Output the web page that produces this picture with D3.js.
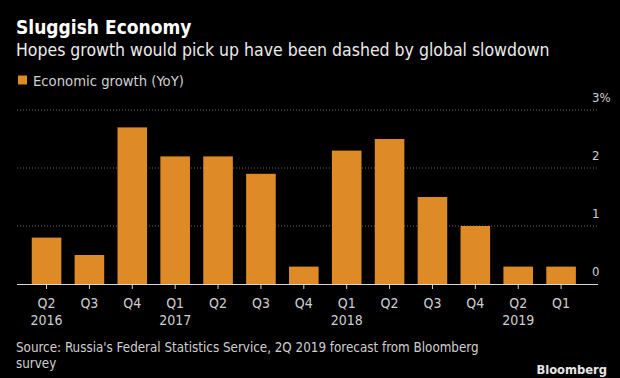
<!DOCTYPE html>
<html><head><meta charset="utf-8">
<script src="https://cdn.jsdelivr.net/npm/d3@7"></script>
<style>
html,body{margin:0;padding:0;background:#000;}
svg{display:block;}
text{font-family:"DejaVu Sans Condensed","DejaVu Sans",sans-serif;}
</style></head>
<body>
<script>
const quarters = ["Q2","Q3","Q4","Q1","Q2","Q3","Q4","Q1","Q2","Q3","Q4","Q2","Q1"];
const years = ["2016","","","2017","","","","2018","","","","2019",""];
const growth = [0.8,0.5,2.7,2.2,2.2,1.9,0.3,2.3,2.5,1.5,1.0,0.3,0.3];
const yTicks = [0,1,2,3];
const keys = quarters.map((q,i)=>i);

const W=620,H=378;
const svg=d3.select("body").append("svg").attr("width",W).attr("height",H);
svg.append("rect").attr("width",W).attr("height",H).attr("fill","#000");

const orange="#de8b27";
const x=d3.scaleBand().domain(keys).range([17,598]).paddingInner(0.31).paddingOuter(0.43).align(0.4);
const y=d3.scaleLinear().domain([0,3]).range([284,110]);

svg.append("text").attr("x",16).attr("y",34).attr("fill","#fff").attr("font-size",19).attr("font-weight","bold").text("Sluggish Economy");
svg.append("text").attr("x",16).attr("y",56).attr("fill","#ececec").attr("font-size",17.5).text("Hopes growth would pick up have been dashed by global slowdown");
svg.append("rect").attr("x",18).attr("y",75.5).attr("width",9).attr("height",9).attr("fill",orange);
svg.append("text").attr("x",33).attr("y",85.5).attr("fill","#d0d0d0").attr("font-size",14.7).text("Economic growth (YoY)");

// gridlines
svg.append("g").selectAll("line").data(yTicks.filter(d=>d>0)).join("line")
  .attr("x1",17).attr("x2",598).attr("y1",d=>y(d)).attr("y2",d=>y(d))
  .attr("stroke","#6a6a6a").attr("stroke-width",1).attr("stroke-dasharray","1,2");

// y labels
svg.append("g").selectAll("text").data(yTicks).join("text")
  .attr("x",592).attr("y",d=>y(d)-8).attr("fill","#cfcfcf").attr("font-size",13)
  .text(d=>d===3?"3%":d);

// bars
svg.append("g").selectAll("rect").data(growth).join("rect")
  .attr("x",(d,i)=>x(i)).attr("width",x.bandwidth())
  .attr("y",d=>y(d)).attr("height",d=>y(0)-y(d)).attr("fill",orange);

// x axis
const xa=d3.axisBottom(x).tickSize(5).tickFormat(i=>quarters[i]);
const g=svg.append("g").attr("transform",`translate(0,${y(0)})`).call(xa);
g.select(".domain").attr("stroke","#d8d8d8").attr("stroke-width",1.2).attr("d","M17,0.5H598");
g.selectAll(".tick line").attr("stroke","#d8d8d8");
g.selectAll(".tick text").attr("fill","#cfcfcf").attr("font-size",14).attr("dy","1.15em")
  .attr("font-family","'DejaVu Sans Condensed','DejaVu Sans',sans-serif");
g.selectAll(".tick").append("text").attr("fill","#cfcfcf").attr("font-size",14)
  .attr("y",25).attr("dy","1.15em").attr("text-anchor","middle")
  .attr("font-family","'DejaVu Sans Condensed','DejaVu Sans',sans-serif")
  .text(i=>years[i]);

svg.append("text").attr("x",16).attr("y",352).attr("fill","#cfcfcf").attr("font-size",13.3)
  .text("Source: Russia's Federal Statistics Service, 2Q 2019 forecast from Bloomberg");
svg.append("text").attr("x",16).attr("y",368).attr("fill","#cfcfcf").attr("font-size",13.3).text("survey");
svg.append("text").attr("x",607).attr("y",374).attr("text-anchor","end").attr("fill","#e6e6e6")
  .attr("font-size",12.8).attr("font-weight","bold").attr("font-family","Arial,'Liberation Sans',sans-serif").text("Bloomberg");
</script>
</body></html>
